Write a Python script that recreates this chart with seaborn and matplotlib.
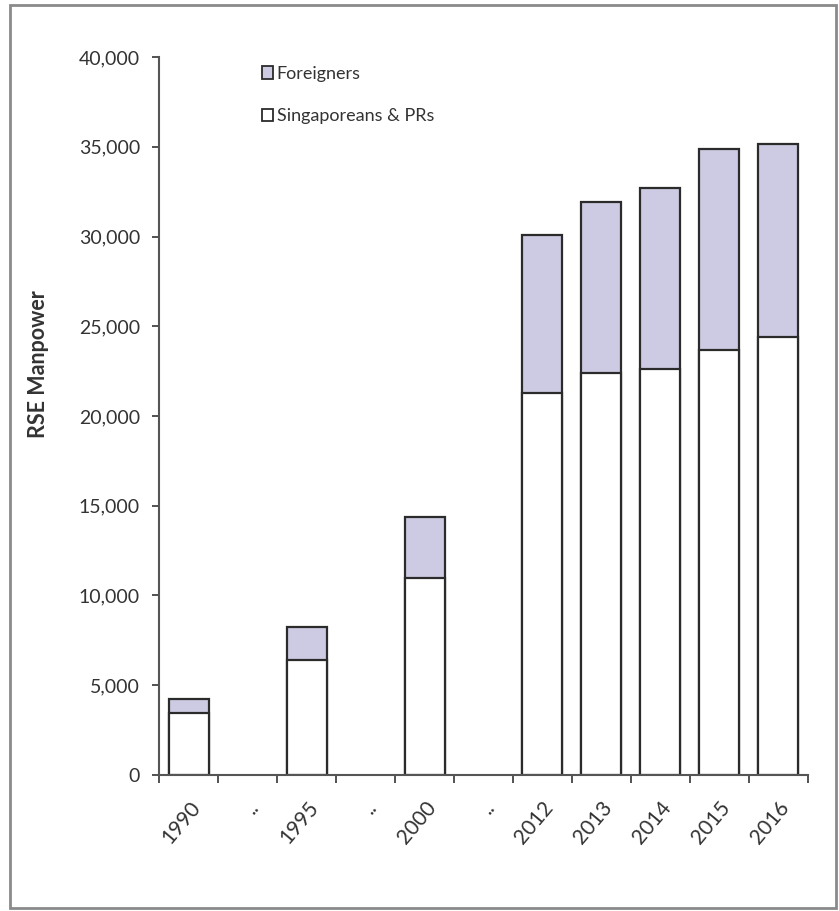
import matplotlib
matplotlib.use("Agg")
import matplotlib.pyplot as plt
from matplotlib.patches import Rectangle, Patch
import pandas as pd
import seaborn as sns

# Categories on the x axis (the dotted slots are breaks in the time series)
categories = ["1990", "..", "1995", "...", "2000", "....", "2012", "2013", "2014", "2015", "2016"]
tick_labels = ["1990", "..", "1995", "..", "2000", "..", "2012", "2013", "2014", "2015", "2016"]
years = ["1990", "1995", "2000", "2012", "2013", "2014", "2015", "2016"]
singaporeans_prs = [3450, 6400, 11000, 21300, 22400, 22600, 23700, 24400]
foreigners = [800, 1850, 3400, 8800, 9550, 10100, 11150, 10750]

df = pd.DataFrame({"year": years, "local": singaporeans_prs, "foreign": foreigners})
df["total"] = df["local"] + df["foreign"]

sns.set_style("white")
plt.rcParams["font.family"] = ["Lato", "DejaVu Sans"]

lavender = "#CCCBE3"
edge = "#2b2b2b"
text_color = "#333333"

fig = plt.figure(figsize=(8.39, 9.11), dpi=100)
ax = fig.add_axes([0.190, 0.1493, 0.7725, 0.7881])

# Stacked bars: full total in lavender, local share drawn over it in white
sns.barplot(data=df, x="year", y="total", order=categories, color=lavender,
            width=0.68, edgecolor=edge, linewidth=1.6, saturation=1, ax=ax)
sns.barplot(data=df, x="year", y="local", order=categories, color="white",
            width=0.68, edgecolor=edge, linewidth=1.6, saturation=1, ax=ax)

ax.set_xlim(-0.5, len(categories) - 0.5)
ax.set_ylim(0, 40000)
ax.set_yticks(range(0, 40001, 5000))
ax.set_yticklabels([f"{v:,}" for v in range(0, 40001, 5000)], fontsize=14, color=text_color)

ax.set_xticks(range(len(categories)))
ax.set_xticklabels(tick_labels, rotation=50, ha="right", rotation_mode="anchor",
                   fontsize=15, color=text_color)
ax.tick_params(axis="x", which="major", length=0, pad=16)
ax.set_xticks([i - 0.5 for i in range(len(categories) + 1)], minor=True)
ax.tick_params(axis="x", which="minor", bottom=True, length=6, width=1.3,
               color="#444444", direction="out")
ax.tick_params(axis="y", left=True, length=5, width=1.3, color="#444444",
               direction="out", pad=9)

ax.set_xlabel("")
ax.set_ylabel("RSE Manpower", fontsize=15.5, fontweight="bold", color=text_color)
ax.yaxis.set_label_coords(-0.170, 0.572)

for side in ["top", "right"]:
    ax.spines[side].set_visible(False)
for side in ["left", "bottom"]:
    ax.spines[side].set_color("#555555")
    ax.spines[side].set_linewidth(1.5)

handles = [Patch(facecolor=lavender, edgecolor=edge, linewidth=1.3, label="Foreigners"),
           Patch(facecolor="white", edgecolor=edge, linewidth=1.3, label="Singaporeans & PRs")]
ax.legend(handles=handles, loc="upper left", bbox_to_anchor=(0.145, 1.0), frameon=False,
          fontsize=13, handlelength=0.6, handleheight=0.7, handletextpad=0.2,
          labelspacing=1.45, borderaxespad=0.1, labelcolor=text_color)

# Outer frame around the whole chart
fig.patches.append(Rectangle((0.012, 0.003), 0.984, 0.991, transform=fig.transFigure,
                             fill=False, edgecolor="#8a8a8a", linewidth=2))

fig.savefig("out.png", dpi=100)
